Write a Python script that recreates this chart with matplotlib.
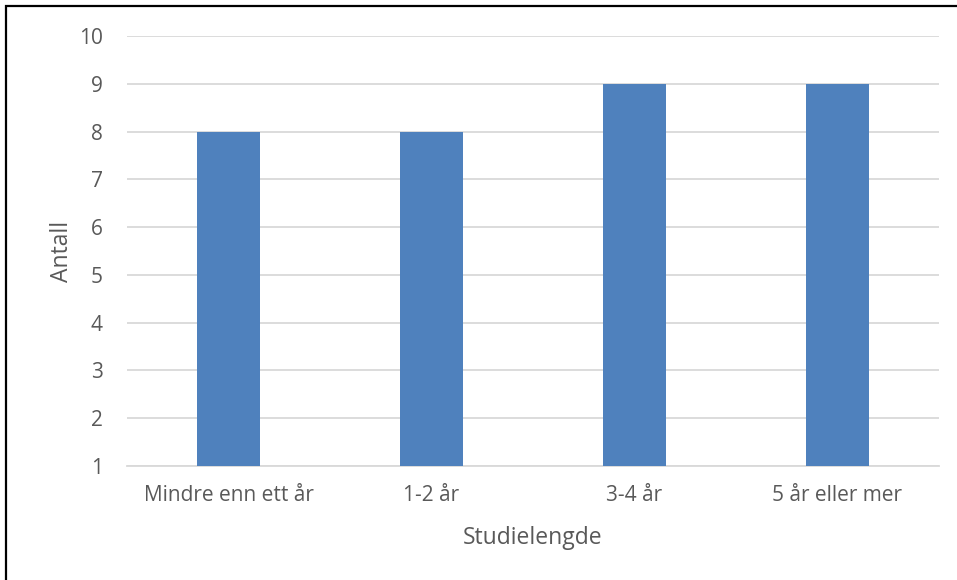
import matplotlib
matplotlib.use("Agg")
import matplotlib.pyplot as plt
from matplotlib.patches import Rectangle

categories = ["Mindre enn ett år", "1-2 år", "3-4 år", "5 år eller mer"]
counts = [8, 8, 9, 9]
y_ticks = [1, 2, 3, 4, 5, 6, 7, 8, 9, 10]

BASE = 1
BAR_COLOR = "#4F81BD"
GRID_COLOR = "#D9D9D9"
TEXT_COLOR = "#595959"

plt.rcParams["font.family"] = ["Open Sans", "DejaVu Sans"]

fig = plt.figure(figsize=(9.57, 5.80), dpi=100)
ax = fig.add_axes([127 / 957, 1 - 466 / 580, 812 / 957, (466 - 36) / 580])

x = range(len(categories))
ax.bar(x, [c - BASE for c in counts], bottom=BASE, width=0.315,
       color=BAR_COLOR, zorder=3)

ax.set_xlim(-0.5, len(categories) - 0.5)
ax.set_ylim(BASE, 10)
ax.set_yticks(y_ticks)
ax.set_xticks(list(x))
ax.set_xticklabels(categories)

ax.grid(axis="y", color=GRID_COLOR, linewidth=1.3, zorder=0)
ax.tick_params(axis="both", length=0, labelsize=15, colors=TEXT_COLOR)
ax.tick_params(axis="y", pad=17.5)
ax.tick_params(axis="x", pad=14)
for side in ("top", "right", "left"):
    ax.spines[side].set_visible(False)
ax.spines["bottom"].set_color(GRID_COLOR)
ax.spines["bottom"].set_linewidth(1.3)

ax.set_xlabel("Studielengde", fontsize=16.5, color=TEXT_COLOR, labelpad=14)
ax.set_ylabel("Antall", fontsize=16.5, color=TEXT_COLOR, labelpad=3.5)

# Outer chart frame
fig.patches.append(Rectangle((6 / 957, -0.1), 1.2, 1 - 6 / 580 + 0.1,
                             transform=fig.transFigure, fill=False,
                             edgecolor="black", linewidth=1.6))

fig.savefig("out.png", dpi=100)
